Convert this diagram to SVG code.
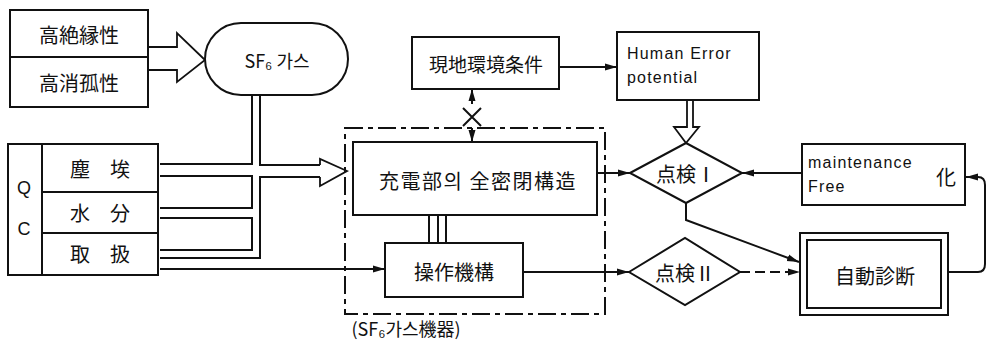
<svg xmlns="http://www.w3.org/2000/svg" width="987" height="344" viewBox="0 0 987 344">
<style>
.box{fill:#fff;stroke:#111;stroke-width:2}
.ln{fill:none;stroke:#111;stroke-width:2}
.hol{fill:#fff;stroke:#111;stroke-width:1.8}
.cj{font-family:"Noto Sans CJK JP","Noto Sans CJK KR",sans-serif;font-size:20px;fill:#111;text-anchor:middle;dominant-baseline:central}
.en{font-family:"Liberation Sans",Arial,sans-serif;font-size:16px;fill:#111;letter-spacing:1.2px}
.dash{fill:none;stroke:#111;stroke-width:2;stroke-dasharray:18 5 5 5}
</style>
<defs>
<marker id="ah" markerWidth="12" markerHeight="8" refX="12" refY="4" orient="auto" markerUnits="userSpaceOnUse">
<path d="M0,0.5 L12,4 L0,7.5 Z" fill="#111"/>
</marker>
</defs>

<g id="connectors">
<path class="hol" d="M148,47 H177 V33 L205,60 L177,82 V70 H148"/>
<path class="ln" d="M252,95 V164 H160"/>
<path class="ln" d="M260,95 V165 H320"/>
<path class="ln" d="M160,176 H252 V208 H160"/>
<path class="ln" d="M160,218 H252 V250 H160"/>
<path class="ln" d="M320,177 H260 V258 H160"/>
<path class="hol" d="M320,165 V159 L347,171 L320,186 V177"/>
<line class="ln" x1="160" y1="269" x2="385" y2="269" marker-end="url(#ah)"/>
<line class="ln" x1="429" y1="215" x2="429" y2="243" stroke-width="1.5"/>
<line class="ln" x1="438" y1="215" x2="438" y2="243" stroke-width="1.5"/>
<line class="ln" x1="446" y1="215" x2="446" y2="243" stroke-width="1.5"/>
<line class="ln" x1="472" y1="104" x2="472" y2="89" marker-end="url(#ah)"/>
<line class="ln" x1="472" y1="128" x2="472" y2="142" marker-end="url(#ah)"/>
<path class="ln" d="M463,108 L481,126 M481,108 L463,126" stroke-width="2.5"/>
<line class="ln" x1="559" y1="67" x2="617" y2="67" marker-end="url(#ah)"/>
<path class="hol" d="M687,100 V127 H674 L686,143 L699,127 H693 V100"/>
<line class="ln" x1="597" y1="173" x2="630" y2="173" marker-end="url(#ah)"/>
<line class="ln" x1="523" y1="272" x2="629" y2="272" marker-end="url(#ah)"/>
<line class="ln" x1="802" y1="173" x2="742" y2="173" marker-end="url(#ah)"/>
<path class="ln" d="M686,203 V220 L799,262" marker-end="url(#ah)"/>
<line class="ln" x1="740" y1="272" x2="800" y2="272" stroke-dasharray="10 5" marker-end="url(#ah)"/>
<path class="ln" d="M948,272 H978 Q985,272 985,264 V185 Q985,177 978,177 H966" marker-end="url(#ah)"/>
</g>

<g id="sf6-equipment">
<rect class="dash" x="345" y="128" width="260" height="186"/>
<text class="cj" x="406" y="328" style="font-size:18px">(SF₆가스機器)</text>
</g>

<g id="high-insulation">
<rect class="box" x="10" y="10" width="138" height="47"/>
<text class="cj" x="79" y="34">高絶縁性</text>
</g>
<g id="high-arc">
<rect class="box" x="10" y="57" width="138" height="50"/>
<text class="cj" x="79" y="82">高消孤性</text>
</g>
<g id="sf6-gas">
<rect class="box" x="205" y="23" width="143" height="72" rx="36" ry="36"/>
<text class="cj" x="277" y="60" style="font-size:18px">SF₆ 가스</text>
</g>

<g id="qc">
<rect class="box" x="8" y="144" width="34" height="131"/>
<text class="cj" x="24" y="188" style="font-family:'Liberation Sans',Arial,sans-serif;font-size:18px">Q</text>
<text class="cj" x="24" y="229" style="font-family:'Liberation Sans',Arial,sans-serif;font-size:18px">C</text>
</g>
<g id="dust">
<rect class="box" x="42" y="144" width="116" height="48"/>
<text class="cj" x="100" y="168">塵　埃</text>
</g>
<g id="moisture">
<rect class="box" x="42" y="192" width="116" height="41"/>
<text class="cj" x="100" y="212">水　分</text>
</g>
<g id="handling">
<rect class="box" x="42" y="233" width="116" height="42"/>
<text class="cj" x="100" y="253">取　扱</text>
</g>

<g id="site-environment">
<rect class="box" x="412" y="37" width="147" height="52"/>
<text class="cj" x="486" y="63" style="font-size:19px">現地環境条件</text>
</g>
<g id="human-error">
<rect class="box" x="617" y="32" width="142" height="68"/>
<text class="en" x="627" y="59">Human  Error</text>
<text class="en" x="627" y="83">potential</text>
</g>

<g id="sealed-structure">
<rect class="box" x="353" y="142" width="244" height="73"/>
<text class="cj" x="478" y="180" style="letter-spacing:1.5px">充電部의 全密閉構造</text>
</g>
<g id="operating-mechanism">
<rect class="box" x="385" y="243" width="138" height="54"/>
<text class="cj" x="454" y="271">操作機構</text>
</g>

<g id="check-1">
<polygon class="box" points="630,173 686,143 742,173 686,203"/>
<text class="cj" x="686" y="173">点検Ⅰ</text>
</g>
<g id="check-2">
<polygon class="box" points="629,272 685,238 740,272 685,305"/>
<text class="cj" x="685" y="272">点検Ⅱ</text>
</g>

<g id="maintenance-free">
<rect class="box" x="802" y="144" width="163" height="61"/>
<text class="en" x="808" y="168">maintenance</text>
<text class="en" x="808" y="192">Free</text>
<text class="cj" x="946" y="176">化</text>
</g>
<g id="auto-diagnosis">
<rect class="box" x="800" y="233" width="148" height="82"/>
<rect class="box" x="807" y="240" width="134" height="68" stroke-width="1.5"/>
<text class="cj" x="875" y="275">自動診断</text>
</g>
</svg>
